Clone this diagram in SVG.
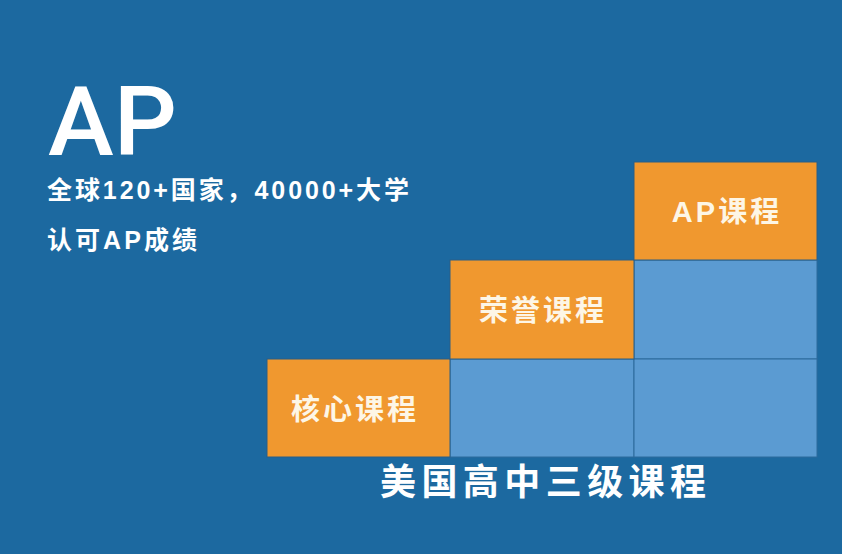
<svg xmlns="http://www.w3.org/2000/svg" width="842" height="554" viewBox="0 0 842 554">
<style>
.t{font-family:"Liberation Sans","Noto Sans CJK SC",sans-serif;font-weight:bold;fill:#ffffff}
.big{font-family:Roboto,"Liberation Sans",sans-serif;font-weight:500;fill:#ffffff;font-size:96px}
.lbl{font-family:"Liberation Sans","Noto Sans CJK SC",sans-serif;font-weight:bold;fill:#fdf6e6;font-size:29px;letter-spacing:3px;text-anchor:middle;dominant-baseline:central}
.or{fill:#f0982f;stroke:#2a5f86;stroke-width:1}
.bl{fill:#5b9bd2;stroke:#2d6a9c;stroke-width:1}
</style>
<rect width="842" height="554" fill="#1c69a0"/>
<text class="big" x="48" y="155" textLength="129" lengthAdjust="spacingAndGlyphs">AP</text>
<text class="t" x="47" y="199" font-size="25" textLength="362" lengthAdjust="spacing">全球120+国家，40000+大学</text>
<text class="t" x="47" y="249" font-size="25" textLength="150" lengthAdjust="spacing">认可AP成绩</text>
<g id="cells">
<rect class="bl" x="450" y="359" width="184" height="98"/>
<rect class="bl" x="634" y="260" width="183" height="99"/>
<rect class="bl" x="634" y="359" width="183" height="98"/>
</g>
<g id="core">
<rect class="or" x="267" y="359" width="183" height="98"/>
<text class="lbl" x="355" y="410">核心课程</text>
</g>
<g id="honors">
<rect class="or" x="450" y="260" width="184" height="99"/>
<text class="lbl" x="543" y="311">荣誉课程</text>
</g>
<g id="ap">
<rect class="or" x="634" y="162" width="183" height="98"/>
<text class="lbl" x="727" y="212" letter-spacing="1">AP课程</text>
</g>
<g id="connectors"></g>
<text class="t" x="380" y="495" font-size="36" textLength="326" lengthAdjust="spacing">美国高中三级课程</text>
</svg>
